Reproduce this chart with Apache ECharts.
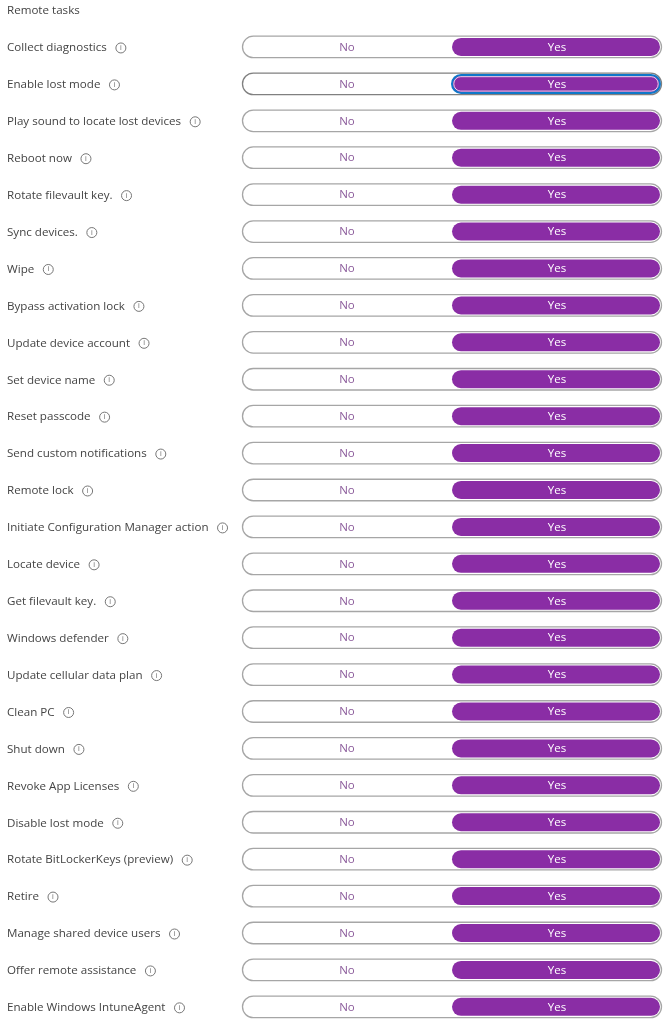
<!DOCTYPE html>
<html>
<head>
<meta charset="utf-8">
<style>html,body{margin:0;padding:0;background:#fff}#c{width:670px;height:1024px}</style>
<script src="https://cdn.jsdelivr.net/npm/echarts@6/dist/echarts.min.js"></script>
</head>
<body>
<div id="c"></div>
<script>
const titleText = 'Remote tasks';
const tasks = ['Collect diagnostics','Enable lost mode','Play sound to locate lost devices','Reboot now','Rotate filevault key.','Sync devices.','Wipe','Bypass activation lock','Update device account','Set device name','Reset passcode','Send custom notifications','Remote lock','Initiate Configuration Manager action','Locate device','Get filevault key.','Windows defender','Update cellular data plan','Clean PC','Shut down','Revoke App Licenses','Disable lost mode','Rotate BitLockerKeys (preview)','Retire','Manage shared device users','Offer remote assistance','Enable Windows IntuneAgent'];
const options = ['No','Yes'];
const selected = ['Yes','Yes','Yes','Yes','Yes','Yes','Yes','Yes','Yes','Yes','Yes','Yes','Yes','Yes','Yes','Yes','Yes','Yes','Yes','Yes','Yes','Yes','Yes','Yes','Yes','Yes','Yes'];
const focusedTask = 'Enable lost mode';

const FONT = '"Open Sans","Noto Sans",sans-serif';
const cells = [];
tasks.forEach(function (t, r) { options.forEach(function (o, c) { cells.push([c, r]); }); });

const chart = echarts.init(document.getElementById('c'), null, {renderer: 'canvas'});
chart.setOption({
  animation: false,
  backgroundColor: '#ffffff',
  title: {text: titleText, left: 7, top: 5, padding: 0, textStyle: {fontFamily: FONT, fontSize: 11.6, fontWeight: 'normal', color: '#444444'}},
  grid: {left: 242, top: 28.5, width: 420, height: 996.8, containLabel: false, outerBoundsMode: 'none'},
  xAxis: {type: 'category', data: options, show: false},
  yAxis: {
    type: 'category', data: tasks, inverse: true,
    axisLine: {show: false}, axisTick: {show: false}, splitLine: {show: false},
    axisLabel: {
      interval: 0, align: 'left', margin: 235, hideOverlap: false,
      fontFamily: FONT, fontSize: 11.6, color: '#444444', padding: [2, 0, 0, 0],
      formatter: function (v) { return v + '   {i|i}'; },
      rich: {i: {fontFamily: FONT, fontSize: 7, color: '#666666', width: 10, height: 10, lineHeight: 10, align: 'center',
                 borderColor: '#777777', borderWidth: 1, borderRadius: 6}}
    }
  },
  series: [
    {
      type: 'custom', name: 'track', silent: true, clip: false,
      data: tasks.map(function (t, r) { return [r]; }),
      encode: {y: 0},
      renderItem: function (params, api) {
        const r = api.value(0);
        const a = api.coord([0, r]), b = api.coord([1, r]);
        const half = api.size([1, 0])[0] / 2;
        const focused = tasks[r] === focusedTask;
        return {type: 'rect',
          shape: {x: a[0] - half + 0.5, y: a[1] - 10.75, width: b[0] - a[0] + 2 * half - 1, height: 21.5, r: 11},
          style: {fill: '#ffffff', stroke: focused ? '#808080' : '#a6a6a6', lineWidth: 1.3}};
      }
    },
    {
      type: 'custom', name: 'options', silent: true, clip: false,
      data: cells,
      encode: {x: 0, y: 1},
      renderItem: function (params, api) {
        const c = api.value(0), r = api.value(1);
        const p = api.coord([c, r]);
        const w = api.size([1, 0])[0];
        const on = selected[r] === options[c];
        const focused = on && tasks[r] === focusedTask;
        const children = [];
        if (on) {
          const x0 = p[0] - w / 2, x1 = p[0] + w / 2 - 2;
          children.push({type: 'rect',
            shape: {x: x0, y: p[1] - 9, width: x1 - x0, height: 18, r: 9},
            style: focused ? {fill: '#8a2da5', stroke: '#0f78c9', lineWidth: 2} : {fill: '#8a2da5'}});
          if (focused) {
            children.push({type: 'rect',
              shape: {x: x0 + 1.8, y: p[1] - 7.2, width: x1 - x0 - 3.6, height: 14.4, r: 7},
              style: {fill: '#8a2da5', stroke: '#ffffff', lineWidth: 0.8}});
          }
        }
        children.push({type: 'text',
          style: {x: p[0], y: p[1] + 0.5, text: options[c], align: 'center', verticalAlign: 'middle',
                  font: '11.5px ' + FONT, fill: on ? '#ffffff' : '#8a5a9a'}});
        return {type: 'group', children: children};
      }
    }
  ]
});
</script>
</body>
</html>
